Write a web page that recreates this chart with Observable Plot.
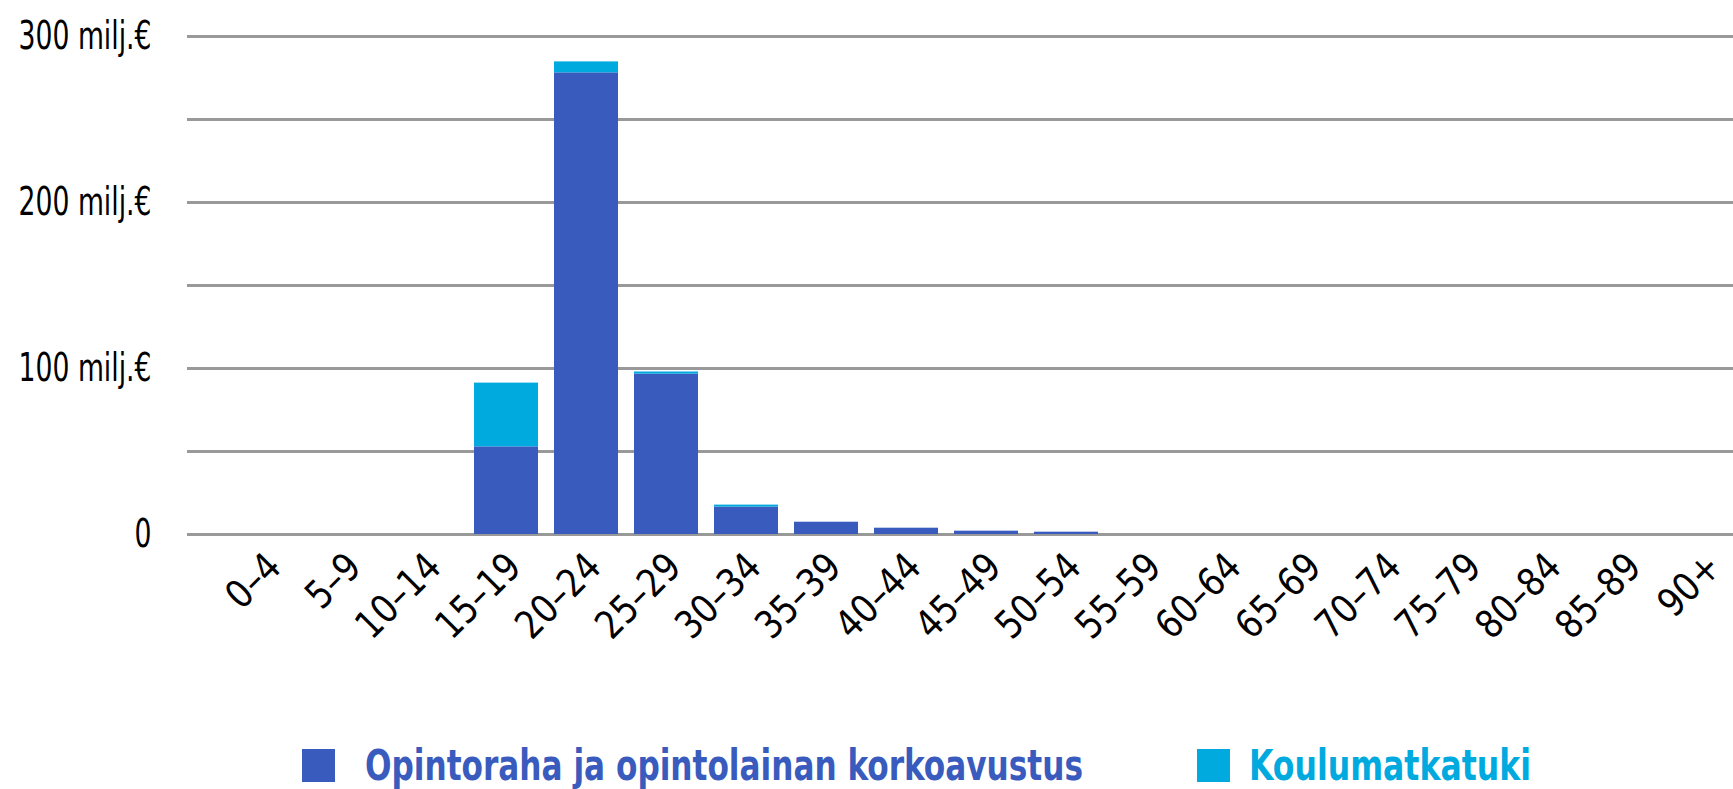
<!DOCTYPE html>
<html><head><meta charset="utf-8">
<script src="https://cdn.jsdelivr.net/npm/d3@7"></script>
<script src="https://cdn.jsdelivr.net/npm/@observablehq/plot@0.6"></script>
<style>
body{margin:0;background:#fff;font-family:"DejaVu Sans",sans-serif;font-stretch:condensed;overflow:hidden;}
#chart svg{font-stretch:condensed;}
#legend{position:relative;height:72px;font-weight:bold;font-size:42px;font-stretch:condensed;}
.sw{position:absolute;width:33px;height:33px;top:19px;}
.tx{position:absolute;top:8px;white-space:nowrap;transform-origin:0 50%;line-height:56px;}
</style></head><body>
<div id="chart"></div>
<div id="legend"></div>
<script>
const ageGroups = ["0–4","5–9","10–14","15–19","20–24","25–29","30–34","35–39","40–44","45–49","50–54","55–59","60–64","65–69","70–74","75–79","80–84","85–89","90+"];
const opintoraha = [0,0,0,52.8,278.1,96.6,16.5,7.4,3.8,2.0,1.4,0,0,0,0,0,0,0,0];
const koulumatkatuki = [0,0,0,38.4,6.6,1.3,1.2,0,0,0,0,0,0,0,0,0,0,0,0];
const seriesNames = ["Opintoraha ja opintolainan korkoavustus","Koulumatkatuki"];
const seriesColors = ["#3a5bbe","#00aadf"];
const yTickValues = [0,100,200,300];
const gridValues = [0,50,100,150,200,250,300];

const data = [];
ageGroups.forEach((a,i)=>{
  data.push({age:a, series:seriesNames[0], value:opintoraha[i]});
  data.push({age:a, series:seriesNames[1], value:koulumatkatuki[i]});
});

const W = 1733, H = 730;
const plot = Plot.plot({
  width: W, height: H,
  marginLeft: 187, marginRight: 0, marginTop: 36, marginBottom: 196,
  style: {fontFamily:'"DejaVu Sans",sans-serif', fontSize:"38px", color:"#000", background:"#fff"},
  x: {domain: ageGroups, range:[187,1785], paddingInner:0.2, paddingOuter:0.5875},
  y: {domain:[0,300]},
  color: {domain: seriesNames, range: seriesColors},
  marks: [
    Plot.ruleY(gridValues, {stroke:"#999", strokeWidth:3}),
    Plot.barY(data, {x:"age", y:"value", fill:"series"}),
    Plot.axisY(yTickValues, {tickSize:0, tickPadding:36, fontSize:39, label:null,
      tickFormat: d => d===0 ? "0" : d + " milj.€"}),
    Plot.axisX({tickSize:0, tickRotate:-45, tickPadding:26, dx:8, fontSize:39, label:null})
  ]
});
document.getElementById("chart").appendChild(plot);

function squeeze(sel, sx){
  plot.querySelectorAll(sel).forEach(el=>{
    const xv = parseFloat(el.getAttribute("x"));
    const x = isFinite(xv) ? xv : 0;
    const t = el.getAttribute("transform") || "";
    el.setAttribute("transform", `${t} translate(${x},0) scale(${sx},1) translate(${-x},0)`.trim());
  });
}
squeeze('g[aria-label="y-axis tick label"] text', 0.76);
squeeze('g[aria-label="x-axis tick label"] text', 0.95);

const lg = document.getElementById("legend");
const swX = [302, 1197], txX = [365, 1249], txW = [718, 282];
seriesNames.forEach((n,i)=>{
  const sw = document.createElement("span"); sw.className="sw"; sw.style.background=seriesColors[i]; sw.style.left=swX[i]+"px";
  const tx = document.createElement("span"); tx.className="tx"; tx.textContent=n; tx.style.color=seriesColors[i]; tx.style.left=txX[i]+"px";
  lg.appendChild(sw); lg.appendChild(tx);
  const w = tx.getBoundingClientRect().width;
  tx.style.transform = `scaleX(${txW[i]/w})`;
});
</script>
</body></html>
